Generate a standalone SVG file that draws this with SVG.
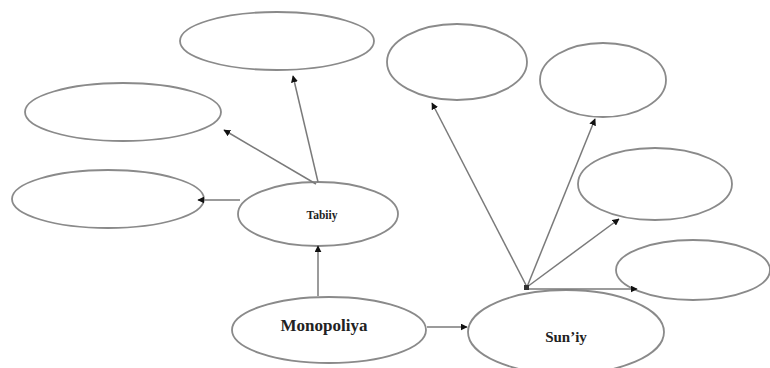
<svg xmlns="http://www.w3.org/2000/svg" width="770" height="368" viewBox="0 0 770 368">
  <style>
    .node ellipse { fill: #ffffff; stroke: #8a8a8a; stroke-width: 1.8; }
    .edge { stroke: #7a7a7a; stroke-width: 1.5; fill: none; marker-end: url(#arrow); }
    .label { font-family: "Liberation Serif", "Times New Roman", serif; font-weight: bold; fill: #222222; text-anchor: middle; }
  </style>
  <defs>
    <marker id="arrow" viewBox="0 0 10 10" refX="9" refY="5" markerWidth="7" markerHeight="7" markerUnits="userSpaceOnUse" orient="auto">
      <path d="M0,0 L10,5 L0,10 z" fill="#111111"/>
    </marker>
  </defs>
  <rect width="770" height="368" fill="#ffffff"/>

  <!-- nodes -->
  <g id="node-top" class="node"><ellipse cx="277" cy="41" rx="97" ry="29"/></g>
  <g id="node-left-upper" class="node"><ellipse cx="123" cy="112" rx="98" ry="29"/></g>
  <g id="node-left-lower" class="node"><ellipse cx="108" cy="199" rx="96" ry="29"/></g>
  <g id="node-tabiiy" class="node">
    <ellipse cx="318" cy="214" rx="80" ry="32"/>
    <text class="label" x="322" y="219" font-size="11.5">Tabiiy</text>
  </g>
  <g id="node-monopoliya" class="node">
    <ellipse cx="329" cy="330" rx="97" ry="33"/>
    <text class="label" x="324" y="331" font-size="17">Monopoliya</text>
  </g>
  <g id="node-suniy" class="node">
    <ellipse cx="566" cy="332" rx="98" ry="42"/>
    <text class="label" x="566" y="342" font-size="15">Sun’iy</text>
  </g>
  <g id="node-right-1" class="node"><ellipse cx="457" cy="62" rx="70" ry="38"/></g>
  <g id="node-right-2" class="node"><ellipse cx="603" cy="80" rx="63" ry="37"/></g>
  <g id="node-right-3" class="node"><ellipse cx="655" cy="184" rx="77" ry="36"/></g>
  <g id="node-right-4" class="node"><ellipse cx="693" cy="270" rx="77" ry="30"/></g>

  <!-- connectors -->
  <g id="connectors">
    <line class="edge" x1="318" y1="296" x2="318" y2="246"/>
    <line class="edge" x1="318" y1="182" x2="293" y2="76"/>
    <line class="edge" x1="316" y1="184" x2="224" y2="130"/>
    <line class="edge" x1="240" y1="200" x2="198" y2="200"/>
    <line class="edge" x1="427" y1="327" x2="467" y2="327"/>
    <line class="edge" x1="527" y1="287" x2="432" y2="103"/>
    <line class="edge" x1="527" y1="287" x2="595" y2="119"/>
    <line class="edge" x1="527" y1="287" x2="619" y2="219"/>
    <line class="edge" x1="527" y1="289" x2="637" y2="289"/>
    <rect x="524" y="285" width="5" height="5" fill="#333333"/>
  </g>
</svg>
